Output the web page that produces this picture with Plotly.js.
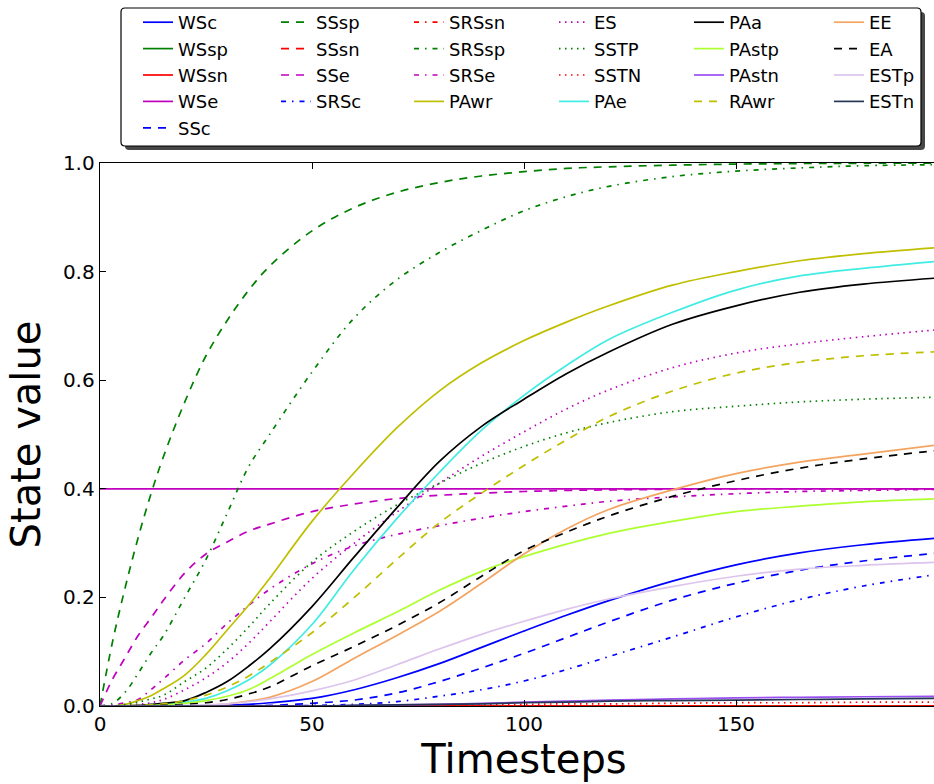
<!DOCTYPE html>
<html>
<head>
<meta charset="utf-8">
<script src="https://cdn.plot.ly/plotly-3.0.1.min.js"></script>
<style>
html,body{margin:0;padding:0;background:#fff;overflow:hidden;}
#wrap{width:934px;height:784px;overflow:hidden;position:relative;}
#plot{width:960px;height:784px;}
</style>
</head>
<body>
<div id="wrap"><div id="plot"></div></div>
<script>
// ---- data ----
const timesteps = [0,3,6,9,12,15,20,25,30,35,40,50,60,70,80,90,100,110,120,135,150,165,180,199];

const WSc   = [0,0,0,0,0,0,0,0,0.001,0.003,0.006,0.014,0.03,0.052,0.078,0.108,0.138,0.167,0.194,0.23,0.26,0.282,0.297,0.31];
const WSsp  = [0,0,0,0,0,0,0,0,0,0,0,0,0,0,0,0,0,0,0,0,0,0,0,0];
const WSsn  = [0,0,0,0,0,0,0,0,0,0,0,0,0,0,0,0,0,0,0,0,0,0,0,0];
const WSe   = [0.4,0.4,0.4,0.4,0.4,0.4,0.4,0.4,0.4,0.4,0.4,0.4,0.4,0.4,0.4,0.4,0.4,0.4,0.4,0.4,0.4,0.4,0.4,0.4];
const SSc   = [0,0,0,0,0,0,0,0,0,0,0.001,0.005,0.011,0.024,0.045,0.07,0.097,0.126,0.155,0.195,0.226,0.25,0.267,0.283];
const SSsp  = [0,0.12,0.22,0.31,0.39,0.46,0.56,0.645,0.71,0.765,0.81,0.875,0.918,0.946,0.964,0.976,0.984,0.99,0.993,0.996,0.998,0.999,0.9995,1.0];
const SSsn  = [0,0,0,0,0,0,0,0,0,0,0,0,0,0,0,0,0,0,0,0,0,0,0,0];
const SSe   = [0,0.05,0.09,0.13,0.162,0.195,0.245,0.28,0.302,0.322,0.335,0.358,0.372,0.382,0.388,0.392,0.395,0.397,0.398,0.399,0.4,0.4,0.4,0.4];
const SRSc  = [0,0,0,0,0,0,0,0,0,0,0,0.001,0.003,0.008,0.018,0.03,0.046,0.067,0.091,0.127,0.164,0.196,0.221,0.244];
const SRSsn = [0,0,0,0,0,0,0,0,0,0,0,0,0,0,0,0,0,0,0,0,0,0,0,0];
const SRSsp = [0,0.005,0.026,0.06,0.097,0.13,0.2,0.27,0.355,0.44,0.5,0.615,0.715,0.785,0.835,0.876,0.912,0.938,0.957,0.975,0.985,0.991,0.995,0.997];
const SRSe  = [0,0.002,0.006,0.012,0.03,0.05,0.085,0.115,0.152,0.185,0.215,0.262,0.295,0.316,0.332,0.346,0.358,0.368,0.377,0.385,0.391,0.395,0.397,0.399];
const PAwr  = [0,0,0.003,0.01,0.019,0.032,0.057,0.095,0.14,0.185,0.235,0.34,0.43,0.512,0.58,0.632,0.673,0.707,0.737,0.775,0.80,0.82,0.833,0.845];
const ES    = [0,0,0.001,0.003,0.006,0.012,0.03,0.052,0.08,0.115,0.155,0.235,0.3,0.357,0.41,0.46,0.505,0.547,0.582,0.623,0.65,0.667,0.68,0.694];
const SSTP  = [0,0,0.003,0.007,0.013,0.02,0.045,0.07,0.105,0.145,0.188,0.265,0.322,0.37,0.41,0.447,0.478,0.503,0.522,0.542,0.552,0.56,0.565,0.569];
const SSTN  = [0,0,0,0,0,0,0,0,0,0,0,0,0,0.001,0.001,0.002,0.003,0.004,0.004,0.005,0.006,0.006,0.007,0.007];
const PAe   = [0,0,0,0,0.001,0.003,0.007,0.014,0.028,0.048,0.075,0.15,0.252,0.345,0.43,0.508,0.572,0.627,0.675,0.725,0.766,0.792,0.806,0.82];
const PAa   = [0,0,0,0.001,0.003,0.005,0.01,0.025,0.045,0.073,0.105,0.183,0.275,0.365,0.45,0.515,0.565,0.612,0.652,0.703,0.737,0.762,0.777,0.789];
const PAstp = [0,0,0,0,0.001,0.002,0.005,0.01,0.018,0.03,0.05,0.095,0.135,0.173,0.213,0.248,0.275,0.298,0.318,0.34,0.358,0.368,0.376,0.382];
const PAstn = [0,0,0,0,0,0,0,0,0,0,0,0,0.001,0.002,0.003,0.005,0.007,0.009,0.011,0.013,0.015,0.016,0.017,0.018];
const RAwr  = [0,0,0,0.001,0.002,0.004,0.01,0.02,0.035,0.055,0.08,0.135,0.2,0.27,0.337,0.392,0.443,0.49,0.533,0.58,0.613,0.633,0.645,0.653];
const EE    = [0,0,0,0,0,0,0,0.001,0.004,0.009,0.016,0.045,0.088,0.13,0.174,0.226,0.28,0.326,0.362,0.398,0.428,0.449,0.464,0.482];
const EA    = [0,0,0,0,0,0.001,0.003,0.006,0.012,0.022,0.035,0.074,0.11,0.148,0.19,0.239,0.286,0.32,0.35,0.386,0.415,0.438,0.455,0.472];
const ESTp  = [0,0,0,0,0,0,0.001,0.002,0.004,0.008,0.013,0.028,0.048,0.076,0.105,0.132,0.156,0.178,0.197,0.22,0.239,0.252,0.259,0.265];
const ESTn  = [0,0,0,0,0,0,0,0,0,0,0,0,0.001,0.002,0.003,0.004,0.006,0.007,0.009,0.01,0.011,0.012,0.013,0.014];

const xTicks = [0,50,100,150,200];
const yTicks = [0,0.2,0.4,0.6,0.8,1.0];
const yTickText = ['0.0','0.2','0.4','0.6','0.8','1.0'];

// ---- styles ----
const DASH = '8px,7px', DASHDOT = '5px,6px,1.5px,6px', DOT = '1.5px,4.5px';
const series = [
  ['WSc',WSc,'#0000ff','solid','legend'],
  ['WSsp',WSsp,'#008000','solid','legend'],
  ['WSsn',WSsn,'#ff0000','solid','legend'],
  ['WSe',WSe,'#bf00bf','solid','legend'],
  ['SSc',SSc,'#0000ff',DASH,'legend'],
  ['SSsp',SSsp,'#008000',DASH,'legend2'],
  ['SSsn',SSsn,'#ff0000',DASH,'legend2'],
  ['SSe',SSe,'#bf00bf',DASH,'legend2'],
  ['SRSc',SRSc,'#0000ff',DASHDOT,'legend2'],
  ['SRSsn',SRSsn,'#ff0000',DASHDOT,'legend3'],
  ['SRSsp',SRSsp,'#008000',DASHDOT,'legend3'],
  ['SRSe',SRSe,'#bf00bf',DASHDOT,'legend3'],
  ['PAwr',PAwr,'#bfbf00','solid','legend3'],
  ['ES',ES,'#bf00bf',DOT,'legend4'],
  ['SSTP',SSTP,'#008000',DOT,'legend4'],
  ['SSTN',SSTN,'#ff0000',DOT,'legend4'],
  ['PAe',PAe,'#40ece4','solid','legend4'],
  ['PAa',PAa,'#000000','solid','legend5'],
  ['PAstp',PAstp,'#adff2f','solid','legend5'],
  ['PAstn',PAstn,'#9b4ff2','solid','legend5'],
  ['RAwr',RAwr,'#bfbf00',DASH,'legend5'],
  ['EE',EE,'#f4a460','solid','legend6'],
  ['EA',EA,'#000000',DASH,'legend6'],
  ['ESTp',ESTp,'#dcc4ec','solid','legend6'],
  ['ESTn',ESTn,'#263656','solid','legend6']
];

const traces = series.map(s => ({
  type:'scatter', mode:'lines', name:s[0], x:timesteps, y:s[1],
  line:{color:s[2], dash:s[3], width:1.7, shape:'spline', smoothing:1.0},
  legend:s[4], hoverinfo:'skip'
}));

// pixel -> paper helpers (plot area: x 100..948, y 163..706)
const PL=100, PW=848, PT=163, PB=706, PH=PB-PT;
const px = x => (x-PL)/PW;
const py = y => (PB-y)/PH;

function roundRect(x0,y0,x1,y1,r){
  const rx=r/PW, ry=r/PH;
  const a=px(x0), b=px(x1), top=py(y0), bot=py(y1);
  return `M${a+rx},${top} L${b-rx},${top} Q${b},${top} ${b},${top-ry} L${b},${bot+ry} Q${b},${bot} ${b-rx},${bot} L${a+rx},${bot} Q${a},${bot} ${a},${bot+ry} L${a},${top-ry} Q${a},${top} ${a+rx},${top} Z`;
}

const legendFont = {family:'DejaVu Sans', size:18, color:'#000'};
const legX = [138,276,409,554,689,829];
const legendBase = i => ({
  x:px(legX[i]), y:py(4), xanchor:'left', yanchor:'top', orientation:'v',
  bgcolor:'rgba(0,0,0,0)', borderwidth:0, font:legendFont, traceorder:'normal'
});

const layout = {
  width:960, height:784,
  margin:{l:PL, r:960-PL-PW, t:PT, b:784-PB, autoexpand:false},
  paper_bgcolor:'#ffffff', plot_bgcolor:'#ffffff',
  font:{family:'DejaVu Sans', color:'#000'},
  showlegend:true,
  legend:legendBase(0), legend2:legendBase(1), legend3:legendBase(2),
  legend4:legendBase(3), legend5:legendBase(4), legend6:legendBase(5),
  xaxis:{
    range:[0,200], tickvals:xTicks, ticktext:xTicks.map(String),
    ticks:'inside', ticklen:6, tickwidth:1, tickcolor:'#000',
    showline:true, linecolor:'#000', linewidth:1.3, mirror:'ticks',
    showgrid:false, zeroline:false, automargin:false,
    tickfont:{family:'DejaVu Sans', size:20, color:'#000'},
    title:{text:'Timesteps', font:{family:'DejaVu Sans', size:40, color:'#000'}, standoff:8}
  },
  yaxis:{
    range:[0,1], tickvals:yTicks, ticktext:yTickText,
    ticks:'inside', ticklen:6, tickwidth:1, tickcolor:'#000',
    showline:true, linecolor:'#000', linewidth:1.3, mirror:'ticks',
    showgrid:false, zeroline:false, automargin:false,
    tickfont:{family:'DejaVu Sans', size:20, color:'#000'},
    title:{text:'State value', font:{family:'DejaVu Sans', size:40, color:'#000'}, standoff:10}
  },
  shapes:[
    {type:'path', xref:'paper', yref:'paper', path:roundRect(125,12,925,150,4),
     fillcolor:'rgba(0,0,0,0.72)', line:{width:0}, layer:'above'},
    {type:'path', xref:'paper', yref:'paper', path:roundRect(121,8,921,146,4),
     fillcolor:'#ffffff', line:{color:'#000', width:1.2}, layer:'above'}
  ]
};

Plotly.newPlot('plot', traces, layout, {staticPlot:true, displayModeBar:false});
</script>
</body>
</html>
